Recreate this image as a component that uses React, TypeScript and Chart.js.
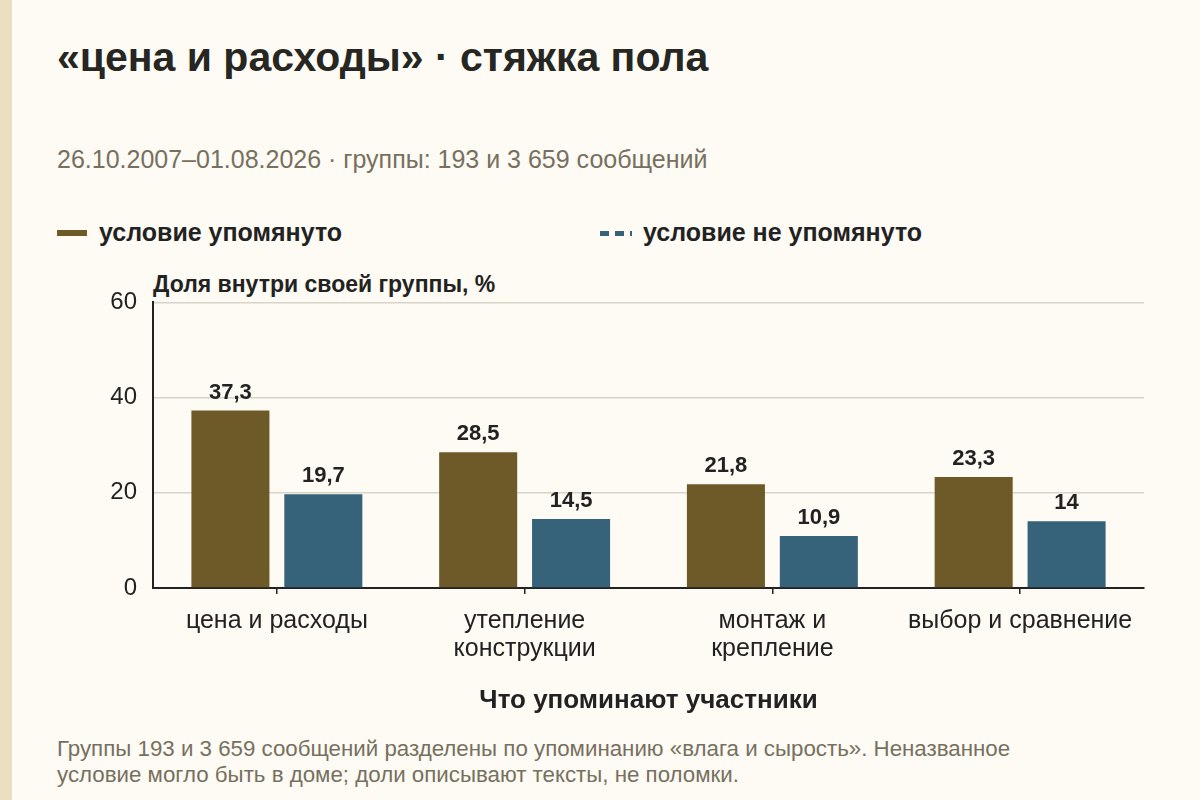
import { useEffect, useRef } from "react";
import Chart from "chart.js/auto";

const categories: (string | string[])[] = [
  "цена и расходы",
  ["утепление", "конструкции"],
  ["монтаж и", "крепление"],
  "выбор и сравнение",
];
const mentioned = [37.3, 28.5, 21.8, 23.3];
const notMentioned = [19.7, 14.5, 10.9, 14];
const yTicks = [0, 20, 40, 60];

const seriesNames = ["условие упомянуто", "условие не упомянуто"];
const colors = ["#6e5a28", "#36637a"];

const FONT = '"Liberation Sans", Arial, sans-serif';
const INK = "#222222";
const MUTED = "#77705f";

const valueLabels = {
  id: "valueLabels",
  afterDatasetsDraw(chart: Chart) {
    const { ctx } = chart;
    ctx.save();
    ctx.font = `bold 22px ${FONT}`;
    ctx.fillStyle = INK;
    ctx.textAlign = "center";
    ctx.textBaseline = "middle";
    chart.data.datasets.forEach((ds, i) => {
      const meta = chart.getDatasetMeta(i);
      meta.data.forEach((bar, j) => {
        const v = ds.data[j] as number;
        ctx.fillText(String(v).replace(".", ","), bar.x, bar.y - 18);
      });
    });
    ctx.restore();
  },
};

function BarChart() {
  const canvasRef = useRef<HTMLCanvasElement>(null);

  useEffect(() => {
    const ctx = canvasRef.current?.getContext("2d");
    if (!ctx) return;

    const chart = new Chart(ctx, {
      type: "bar",
      data: {
        labels: categories,
        datasets: [
          {
            label: seriesNames[0],
            data: mentioned,
            backgroundColor: colors[0],
            categoryPercentage: 0.75,
            barPercentage: 0.84,
          },
          {
            label: seriesNames[1],
            data: notMentioned,
            backgroundColor: colors[1],
            categoryPercentage: 0.75,
            barPercentage: 0.84,
          },
        ],
      },
      options: {
        animation: false,
        responsive: true,
        maintainAspectRatio: false,
        layout: { padding: { top: 12, right: 6, left: 0, bottom: 0 } },
        plugins: {
          legend: { display: false },
          tooltip: { enabled: false },
        },
        scales: {
          x: {
            afterFit: (scale) => {
              scale.height = 132;
            },
            grid: {
              display: true,
              drawOnChartArea: false,
              drawTicks: true,
              tickLength: 6,
              offset: false,
              color: INK,
              lineWidth: 1.5,
            },
            border: { display: true, color: INK, width: 2 },
            ticks: {
              color: INK,
              padding: 13,
              maxRotation: 0,
              font: { family: FONT, size: 25, lineHeight: 1.12 },
            },
            title: {
              display: true,
              text: "Что упоминают участники",
              color: INK,
              padding: { top: 0, bottom: 4 },
              font: { family: FONT, size: 26, weight: "bold" },
            },
          },
          y: {
            min: 0,
            max: 60,
            afterFit: (scale) => {
              scale.width = 73;
            },
            afterBuildTicks: (scale) => {
              scale.ticks = yTicks.map((v) => ({ value: v }));
            },
            grid: {
              color: "#d8d4c8",
              lineWidth: 1.5,
              drawTicks: false,
            },
            border: { display: true, color: INK, width: 2 },
            ticks: {
              color: INK,
              padding: 16,
              font: { family: FONT, size: 24 },
            },
          },
        },
      },
      plugins: [valueLabels],
    });

    return () => chart.destroy();
  }, []);

  return <canvas ref={canvasRef} />;
}

export default function App() {
  return (
    <div
      style={{
        position: "fixed",
        left: 0,
        top: 0,
        width: 1200,
        height: 800,
        background: "#fdfbf4",
        fontFamily: FONT,
        color: INK,
        overflow: "hidden",
      }}
    >
      <div style={{ position: "absolute", left: 0, top: 0, width: 12, height: 800, background: "#ebdfc1" }} />

      <div style={{ position: "absolute", left: 57, top: 37, fontSize: 41, lineHeight: "41px", fontWeight: "bold", color: "#262622" }}>
        «цена и расходы» · стяжка пола
      </div>

      <div style={{ position: "absolute", left: 57, top: 147, fontSize: 25, lineHeight: "25px", color: MUTED }}>
        26.10.2007–01.08.2026 · группы: 193 и 3 659 сообщений
      </div>

      {/* legend */}
      <div style={{ position: "absolute", left: 57, top: 230, width: 30, height: 6, background: colors[0] }} />
      <div style={{ position: "absolute", left: 99, top: 220, fontSize: 25, lineHeight: "25px", fontWeight: "bold" }}>
        {seriesNames[0]}
      </div>
      <div
        style={{
          position: "absolute",
          left: 600,
          top: 231,
          width: 32,
          height: 5,
          background: `repeating-linear-gradient(to right, ${colors[1]} 0 9px, transparent 9px 15px)`,
        }}
      />
      <div style={{ position: "absolute", left: 643, top: 220, fontSize: 25, lineHeight: "25px", fontWeight: "bold" }}>
        {seriesNames[1]}
      </div>

      <div style={{ position: "absolute", left: 153, top: 273, fontSize: 23, lineHeight: "23px", fontWeight: "bold" }}>
        Доля внутри своей группы, %
      </div>

      <div style={{ position: "absolute", left: 80, top: 272, width: 1070, height: 448 }}>
        <BarChart />
      </div>

      <div style={{ position: "absolute", left: 57, top: 736, fontSize: 22.3, lineHeight: "26px", color: MUTED }}>
        Группы 193 и 3 659 сообщений разделены по упоминанию «влага и сырость». Неназванное
        <br />
        условие могло быть в доме; доли описывают тексты, не поломки.
      </div>
    </div>
  );
}
